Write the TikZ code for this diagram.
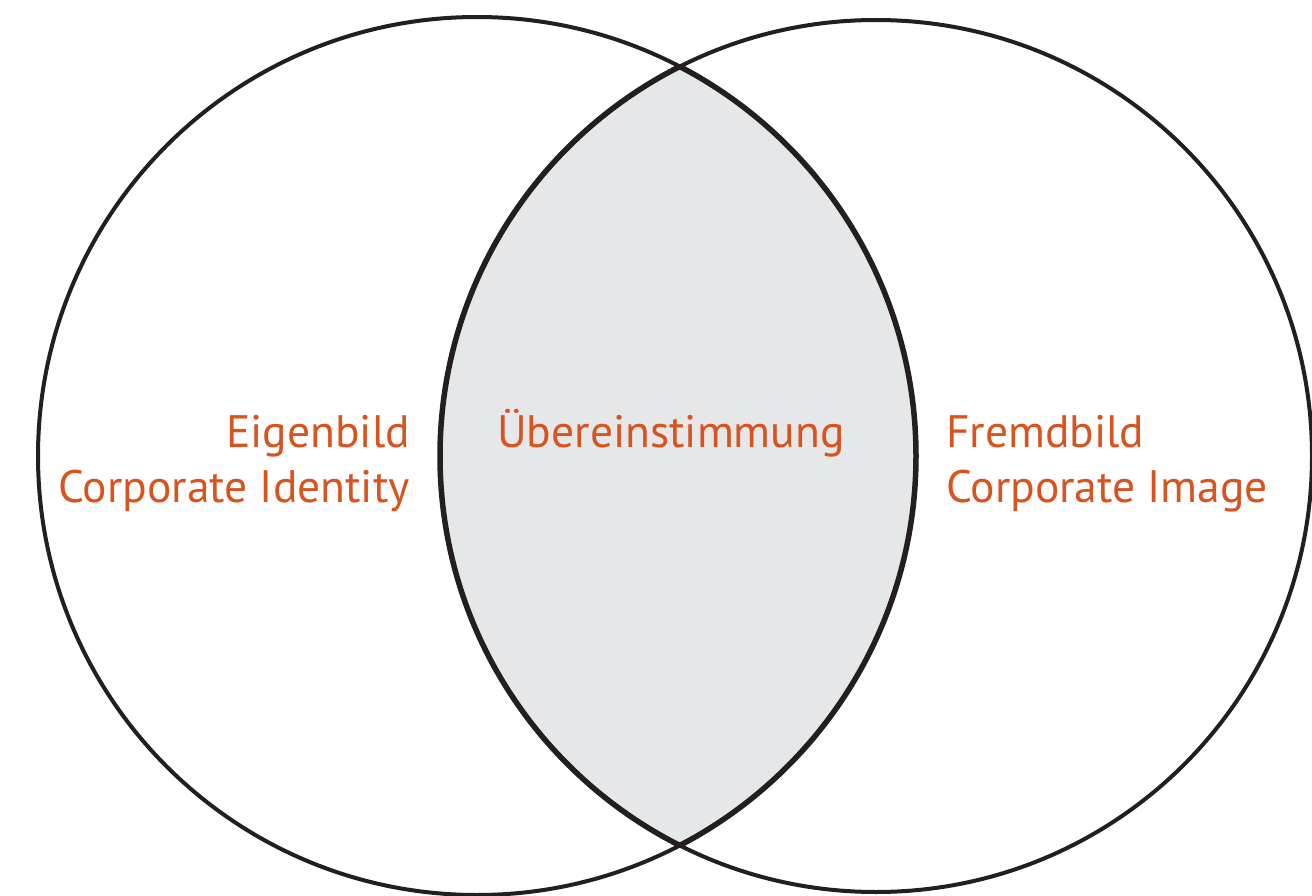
\documentclass[tikz,border=0pt]{standalone}
\usepackage{fontspec}
\setmainfont{PT Sans}
\definecolor{lbl}{HTML}{D9531E}
\definecolor{lens}{HTML}{E6E7E8}
\definecolor{ink}{HTML}{231F20}
\begin{document}
\begin{tikzpicture}[x=1pt,y=-1pt,
  ring/.style={draw=ink,line width=4pt},
  lensline/.style={draw=ink,line width=5.5pt},
  lbl/.style={text=lbl,font=\fontsize{45.5}{55}\selectfont,inner sep=0pt}]
\useasboundingbox (0,0) rectangle (1312,896);
\coordinate (cl) at (477,456);
\coordinate (cr) at (876,456);
\begin{scope}
  \clip (cl) circle (439);
  \fill[lens] (cr) circle (436);
\end{scope}
\draw[ring] (cl) circle (439);
\draw[ring] (cr) circle (436);
\begin{scope}
  \clip (cl) circle (439);
  \draw[lensline] (cr) circle (436);
\end{scope}
\begin{scope}
  \clip (cr) circle (436);
  \draw[lensline] (cl) circle (439);
\end{scope}
\node[lbl,anchor=base east] (e1) at (410,447) {Eigenbild};
\node[lbl,anchor=base east] (e2) at (410,502) {Corporate Identity};
\node[lbl,anchor=base] (u) at (671,447) {Übereinstimmung};
\node[lbl,anchor=base west] (f1) at (946,447) {Fremdbild};
\node[lbl,anchor=base west] (f2) at (946,502) {Corporate Image};
\end{tikzpicture}
\end{document}
